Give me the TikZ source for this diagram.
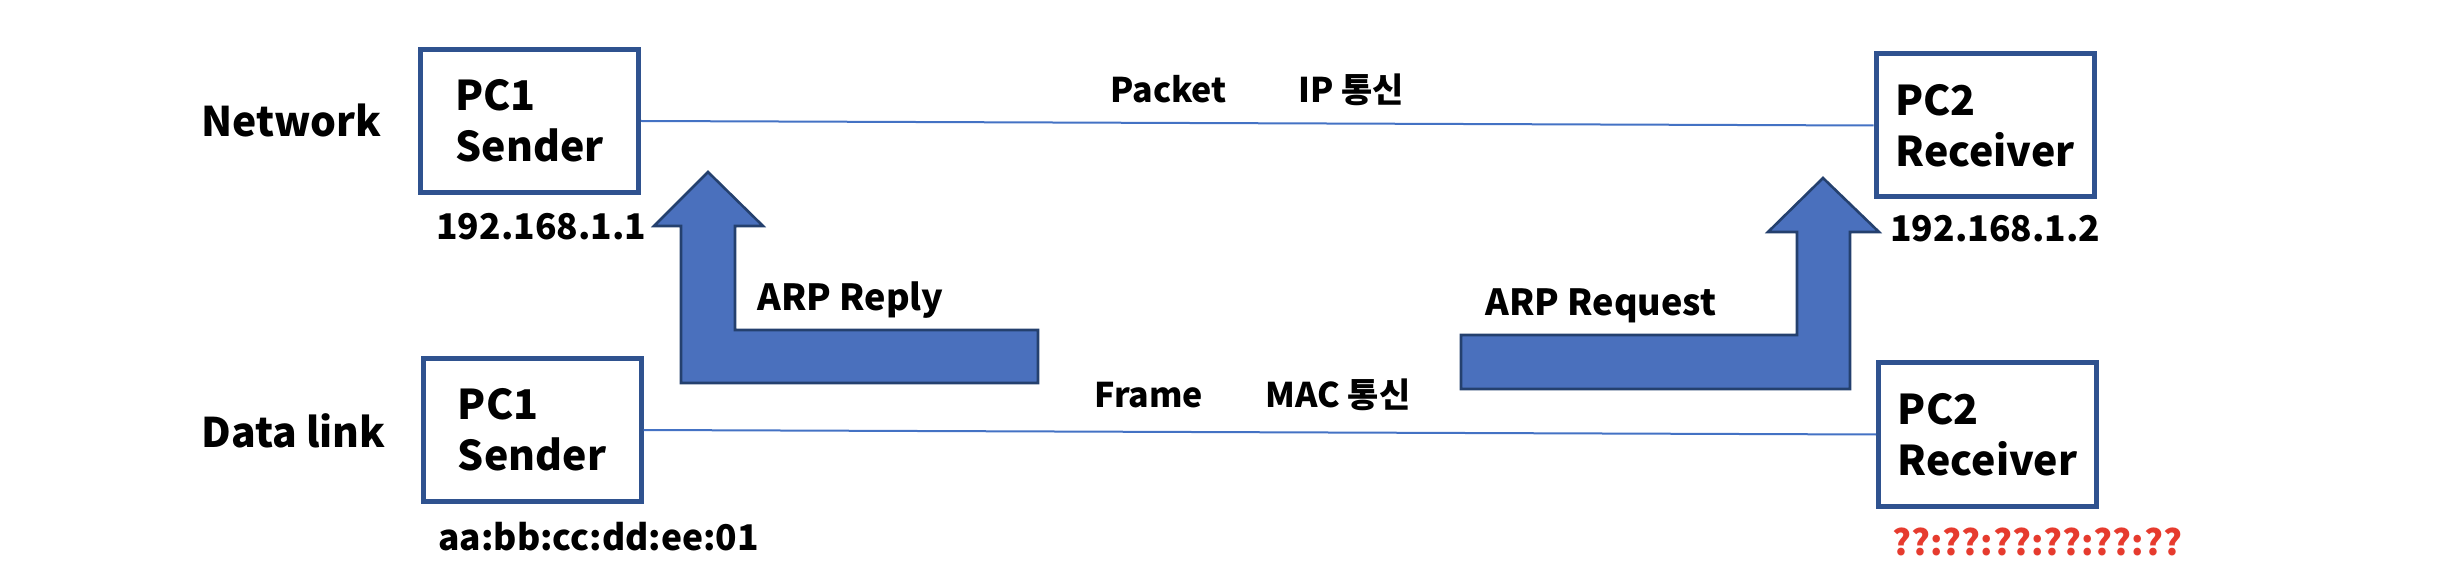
\documentclass[tikz,border=0pt]{standalone}
\usepackage{fontspec}
\setmainfont{Noto Sans CJK KR}
\usepackage{tikz}
\usetikzlibrary{positioning}

\definecolor{boxblue}{HTML}{2F528F}
\definecolor{lineblue}{HTML}{4472C4}
\definecolor{arrowblue}{HTML}{4A70BD}
\definecolor{arrowedge}{HTML}{24406E}
\definecolor{unknownred}{HTML}{E63B2E}

\begin{document}
\begin{tikzpicture}[x=0.5pt,y=-0.5pt,every node/.style={inner sep=0pt}]

% Define block styles
\tikzstyle{pcbox} = [rectangle, draw=boxblue, line width=2.5pt, fill=white,
    minimum width=109pt, minimum height=71.5pt, align=left,
    font=\bfseries\fontsize{20.5}{25.5}\selectfont]
\tikzstyle{wire} = [draw=lineblue, line width=1pt]
\tikzstyle{bigarrow} = [draw=arrowedge, fill=arrowblue, line width=1.3pt, line join=miter]
\tikzstyle{layer} = [anchor=base west, font=\bfseries\fontsize{20.4}{24}\selectfont]
\tikzstyle{addr} = [anchor=base west, font=\bfseries\fontsize{17.7}{21}\selectfont]
\tikzstyle{tag} = [anchor=base west, font=\bfseries\fontsize{17}{20}\selectfont]

\useasboundingbox (0,0) rectangle (2438,588);

% layers
\node [layer] (network) at (201,137) {Network};
\node [layer] (datalink) at (201,447) {Data link};

% hosts
\node [pcbox] (pc1net) at (529.5,121) {PC1\\Sender};
\node [pcbox] (pc2net) at (1985,125.5) {PC2\\Receiver};
\node [pcbox] (pc1link) at (532,430) {PC1\\Sender};
\node [pcbox] (pc2link) at (1987.5,434.5) {PC2\\Receiver};

% addresses
\node [addr] (ip1) at (436,240) {192.168.1.1};
\node [addr] (ip2) at (1890,242) {192.168.1.2};
\node [addr] (mac1) at (438,550) {aa:bb:cc:dd:ee:01};
\node [addr,text=unknownred] (mac2) at (1892,555) {??:??:??:??:??:??};

\draw[wire] (pc1net.east) -- (pc2net.west);
\draw[wire] (pc1link.east) -- (pc2link.west);

\node [tag] (packet) at (1110,103) {Packet};
\node [tag] (ipcomm) at (1298,103) {IP 통신};
\node [tag] (frame) at (1094,408) {Frame};
\node [tag] (maccomm) at (1265,408) {MAC 통신};

% ARP arrows
\draw[bigarrow] (1038,330) -- (735,330) -- (735,226) -- (763,226) -- (708,172)
    -- (654,226) -- (681,226) -- (681,383) -- (1038,383) -- cycle;
\draw[bigarrow] (1461,335) -- (1797,335) -- (1797,232) -- (1768,232) -- (1823,178)
    -- (1879,232) -- (1850,232) -- (1850,389) -- (1461,389) -- cycle;

\node [tag,font=\bfseries\fontsize{18}{21}\selectfont] (reply) at (757,311) {ARP Reply};
\node [tag,font=\bfseries\fontsize{18}{21}\selectfont] (request) at (1485,316) {ARP Request};

\end{tikzpicture}
\end{document}
